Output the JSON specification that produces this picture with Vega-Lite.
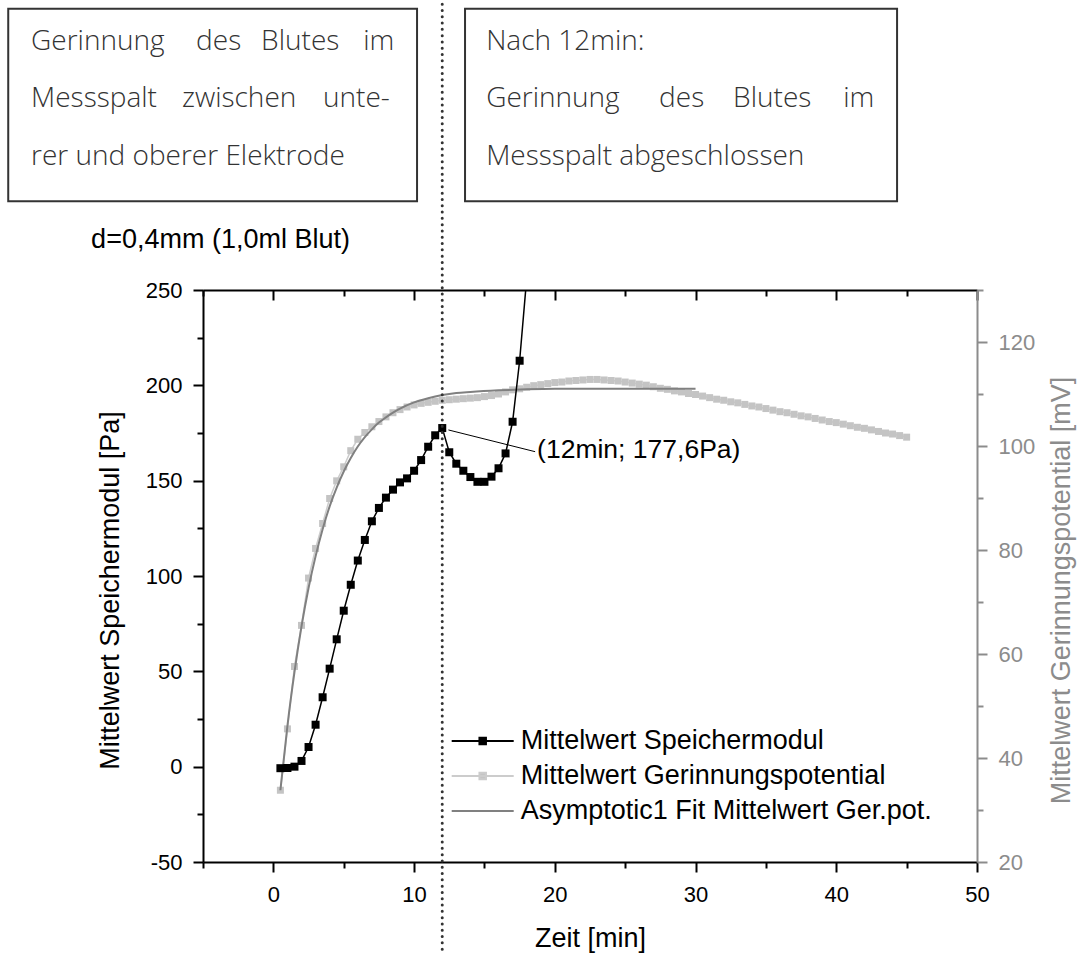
{
  "$schema": "https://vega.github.io/schema/vega-lite/v6.json",
  "width": 774,
  "height": 572,
  "autosize": {"type": "none"},
  "padding": {"left": 203, "top": 290, "right": 101, "bottom": 92},
  "background": "white",
  "config": {"view": {"stroke": null}},
  "datasets": {
    "sm": [
      {"t": 0.5, "v": -0.8, "s": "Mittelwert Speichermodul"},
      {"t": 1, "v": -0.7, "s": "Mittelwert Speichermodul"},
      {"t": 1.5, "v": 0, "s": "Mittelwert Speichermodul"},
      {"t": 2, "v": 3.0, "s": "Mittelwert Speichermodul"},
      {"t": 2.5, "v": 10.3, "s": "Mittelwert Speichermodul"},
      {"t": 3, "v": 22.0, "s": "Mittelwert Speichermodul"},
      {"t": 3.5, "v": 36.4, "s": "Mittelwert Speichermodul"},
      {"t": 4, "v": 51.4, "s": "Mittelwert Speichermodul"},
      {"t": 4.5, "v": 66.8, "s": "Mittelwert Speichermodul"},
      {"t": 5, "v": 81.8, "s": "Mittelwert Speichermodul"},
      {"t": 5.5, "v": 95.4, "s": "Mittelwert Speichermodul"},
      {"t": 6, "v": 108.1, "s": "Mittelwert Speichermodul"},
      {"t": 6.5, "v": 118.9, "s": "Mittelwert Speichermodul"},
      {"t": 7, "v": 128.7, "s": "Mittelwert Speichermodul"},
      {"t": 7.5, "v": 135.7, "s": "Mittelwert Speichermodul"},
      {"t": 8, "v": 141.1, "s": "Mittelwert Speichermodul"},
      {"t": 8.5, "v": 145.3, "s": "Mittelwert Speichermodul"},
      {"t": 9, "v": 149.1, "s": "Mittelwert Speichermodul"},
      {"t": 9.5, "v": 151.2, "s": "Mittelwert Speichermodul"},
      {"t": 10, "v": 155.2, "s": "Mittelwert Speichermodul"},
      {"t": 10.5, "v": 160.8, "s": "Mittelwert Speichermodul"},
      {"t": 11, "v": 167.8, "s": "Mittelwert Speichermodul"},
      {"t": 11.5, "v": 173.8, "s": "Mittelwert Speichermodul"},
      {"t": 12, "v": 177.6, "s": "Mittelwert Speichermodul"},
      {"t": 12.5, "v": 164.9, "s": "Mittelwert Speichermodul"},
      {"t": 13, "v": 158.9, "s": "Mittelwert Speichermodul"},
      {"t": 13.5, "v": 155.2, "s": "Mittelwert Speichermodul"},
      {"t": 14, "v": 151.9, "s": "Mittelwert Speichermodul"},
      {"t": 14.5, "v": 149.4, "s": "Mittelwert Speichermodul"},
      {"t": 15, "v": 149.4, "s": "Mittelwert Speichermodul"},
      {"t": 15.5, "v": 152.1, "s": "Mittelwert Speichermodul"},
      {"t": 16, "v": 156.5, "s": "Mittelwert Speichermodul"},
      {"t": 16.5, "v": 164.3, "s": "Mittelwert Speichermodul"},
      {"t": 17, "v": 180.9, "s": "Mittelwert Speichermodul"},
      {"t": 17.5, "v": 212.9, "s": "Mittelwert Speichermodul"},
      {"t": 18, "v": 256, "s": "Mittelwert Speichermodul"}
    ],
    "gp": [
      {"t": 0.5, "v": 33.8, "s": "Mittelwert Gerinnungspotential"},
      {"t": 1, "v": 45.6, "s": "Mittelwert Gerinnungspotential"},
      {"t": 1.5, "v": 57.6, "s": "Mittelwert Gerinnungspotential"},
      {"t": 2, "v": 65.5, "s": "Mittelwert Gerinnungspotential"},
      {"t": 2.5, "v": 74.6, "s": "Mittelwert Gerinnungspotential"},
      {"t": 3, "v": 80.3, "s": "Mittelwert Gerinnungspotential"},
      {"t": 3.5, "v": 85.1, "s": "Mittelwert Gerinnungspotential"},
      {"t": 4, "v": 89.9, "s": "Mittelwert Gerinnungspotential"},
      {"t": 4.5, "v": 93.3, "s": "Mittelwert Gerinnungspotential"},
      {"t": 5, "v": 96.0, "s": "Mittelwert Gerinnungspotential"},
      {"t": 5.5, "v": 99.1, "s": "Mittelwert Gerinnungspotential"},
      {"t": 6, "v": 101.3, "s": "Mittelwert Gerinnungspotential"},
      {"t": 6.5, "v": 102.6, "s": "Mittelwert Gerinnungspotential"},
      {"t": 7, "v": 103.7, "s": "Mittelwert Gerinnungspotential"},
      {"t": 7.5, "v": 104.7, "s": "Mittelwert Gerinnungspotential"},
      {"t": 8, "v": 105.6, "s": "Mittelwert Gerinnungspotential"},
      {"t": 8.5, "v": 106.4, "s": "Mittelwert Gerinnungspotential"},
      {"t": 9, "v": 107.0, "s": "Mittelwert Gerinnungspotential"},
      {"t": 9.5, "v": 107.5, "s": "Mittelwert Gerinnungspotential"},
      {"t": 10, "v": 107.9, "s": "Mittelwert Gerinnungspotential"},
      {"t": 10.5, "v": 108.2, "s": "Mittelwert Gerinnungspotential"},
      {"t": 11, "v": 108.4, "s": "Mittelwert Gerinnungspotential"},
      {"t": 11.5, "v": 108.6, "s": "Mittelwert Gerinnungspotential"},
      {"t": 12, "v": 108.8, "s": "Mittelwert Gerinnungspotential"},
      {"t": 12.5, "v": 108.9, "s": "Mittelwert Gerinnungspotential"},
      {"t": 13, "v": 109.0, "s": "Mittelwert Gerinnungspotential"},
      {"t": 13.5, "v": 109.1, "s": "Mittelwert Gerinnungspotential"},
      {"t": 14, "v": 109.2, "s": "Mittelwert Gerinnungspotential"},
      {"t": 14.5, "v": 109.3, "s": "Mittelwert Gerinnungspotential"},
      {"t": 15, "v": 109.5, "s": "Mittelwert Gerinnungspotential"},
      {"t": 15.5, "v": 109.7, "s": "Mittelwert Gerinnungspotential"},
      {"t": 16, "v": 110.0, "s": "Mittelwert Gerinnungspotential"},
      {"t": 16.5, "v": 110.4, "s": "Mittelwert Gerinnungspotential"},
      {"t": 17, "v": 110.8, "s": "Mittelwert Gerinnungspotential"},
      {"t": 17.5, "v": 111.0, "s": "Mittelwert Gerinnungspotential"},
      {"t": 18, "v": 111.3, "s": "Mittelwert Gerinnungspotential"},
      {"t": 18.5, "v": 111.6, "s": "Mittelwert Gerinnungspotential"},
      {"t": 19, "v": 111.8, "s": "Mittelwert Gerinnungspotential"},
      {"t": 19.5, "v": 112.0, "s": "Mittelwert Gerinnungspotential"},
      {"t": 20, "v": 112.2, "s": "Mittelwert Gerinnungspotential"},
      {"t": 20.5, "v": 112.3, "s": "Mittelwert Gerinnungspotential"},
      {"t": 21, "v": 112.5, "s": "Mittelwert Gerinnungspotential"},
      {"t": 21.5, "v": 112.6, "s": "Mittelwert Gerinnungspotential"},
      {"t": 22, "v": 112.7, "s": "Mittelwert Gerinnungspotential"},
      {"t": 22.5, "v": 112.8, "s": "Mittelwert Gerinnungspotential"},
      {"t": 23, "v": 112.8, "s": "Mittelwert Gerinnungspotential"},
      {"t": 23.5, "v": 112.7, "s": "Mittelwert Gerinnungspotential"},
      {"t": 24, "v": 112.6, "s": "Mittelwert Gerinnungspotential"},
      {"t": 24.5, "v": 112.5, "s": "Mittelwert Gerinnungspotential"},
      {"t": 25, "v": 112.3, "s": "Mittelwert Gerinnungspotential"},
      {"t": 25.5, "v": 112.1, "s": "Mittelwert Gerinnungspotential"},
      {"t": 26, "v": 111.9, "s": "Mittelwert Gerinnungspotential"},
      {"t": 26.5, "v": 111.7, "s": "Mittelwert Gerinnungspotential"},
      {"t": 27, "v": 111.4, "s": "Mittelwert Gerinnungspotential"},
      {"t": 27.5, "v": 111.1, "s": "Mittelwert Gerinnungspotential"},
      {"t": 28, "v": 110.9, "s": "Mittelwert Gerinnungspotential"},
      {"t": 28.5, "v": 110.6, "s": "Mittelwert Gerinnungspotential"},
      {"t": 29, "v": 110.4, "s": "Mittelwert Gerinnungspotential"},
      {"t": 29.5, "v": 110.1, "s": "Mittelwert Gerinnungspotential"},
      {"t": 30, "v": 109.9, "s": "Mittelwert Gerinnungspotential"},
      {"t": 30.5, "v": 109.6, "s": "Mittelwert Gerinnungspotential"},
      {"t": 31, "v": 109.3, "s": "Mittelwert Gerinnungspotential"},
      {"t": 31.5, "v": 109.0, "s": "Mittelwert Gerinnungspotential"},
      {"t": 32, "v": 108.8, "s": "Mittelwert Gerinnungspotential"},
      {"t": 32.5, "v": 108.5, "s": "Mittelwert Gerinnungspotential"},
      {"t": 33, "v": 108.3, "s": "Mittelwert Gerinnungspotential"},
      {"t": 33.5, "v": 108.0, "s": "Mittelwert Gerinnungspotential"},
      {"t": 34, "v": 107.7, "s": "Mittelwert Gerinnungspotential"},
      {"t": 34.5, "v": 107.5, "s": "Mittelwert Gerinnungspotential"},
      {"t": 35, "v": 107.2, "s": "Mittelwert Gerinnungspotential"},
      {"t": 35.5, "v": 106.9, "s": "Mittelwert Gerinnungspotential"},
      {"t": 36, "v": 106.6, "s": "Mittelwert Gerinnungspotential"},
      {"t": 36.5, "v": 106.4, "s": "Mittelwert Gerinnungspotential"},
      {"t": 37, "v": 106.1, "s": "Mittelwert Gerinnungspotential"},
      {"t": 37.5, "v": 105.8, "s": "Mittelwert Gerinnungspotential"},
      {"t": 38, "v": 105.6, "s": "Mittelwert Gerinnungspotential"},
      {"t": 38.5, "v": 105.3, "s": "Mittelwert Gerinnungspotential"},
      {"t": 39, "v": 105.0, "s": "Mittelwert Gerinnungspotential"},
      {"t": 39.5, "v": 104.7, "s": "Mittelwert Gerinnungspotential"},
      {"t": 40, "v": 104.5, "s": "Mittelwert Gerinnungspotential"},
      {"t": 40.5, "v": 104.2, "s": "Mittelwert Gerinnungspotential"},
      {"t": 41, "v": 103.9, "s": "Mittelwert Gerinnungspotential"},
      {"t": 41.5, "v": 103.6, "s": "Mittelwert Gerinnungspotential"},
      {"t": 42, "v": 103.4, "s": "Mittelwert Gerinnungspotential"},
      {"t": 42.5, "v": 103.1, "s": "Mittelwert Gerinnungspotential"},
      {"t": 43, "v": 102.8, "s": "Mittelwert Gerinnungspotential"},
      {"t": 43.5, "v": 102.5, "s": "Mittelwert Gerinnungspotential"},
      {"t": 44, "v": 102.3, "s": "Mittelwert Gerinnungspotential"},
      {"t": 44.5, "v": 102.0, "s": "Mittelwert Gerinnungspotential"},
      {"t": 45, "v": 101.7, "s": "Mittelwert Gerinnungspotential"}
    ],
    "fit": [
      {"t": 0.5, "v": 33.8, "s": "Asymptotic1 Fit Mittelwert Ger.pot."},
      {"t": 1, "v": 46.2, "s": "Asymptotic1 Fit Mittelwert Ger.pot."},
      {"t": 1.5, "v": 56.5, "s": "Asymptotic1 Fit Mittelwert Ger.pot."},
      {"t": 2, "v": 65.3, "s": "Asymptotic1 Fit Mittelwert Ger.pot."},
      {"t": 2.5, "v": 72.7, "s": "Asymptotic1 Fit Mittelwert Ger.pot."},
      {"t": 3, "v": 78.8, "s": "Asymptotic1 Fit Mittelwert Ger.pot."},
      {"t": 3.5, "v": 84.0, "s": "Asymptotic1 Fit Mittelwert Ger.pot."},
      {"t": 4, "v": 88.4, "s": "Asymptotic1 Fit Mittelwert Ger.pot."},
      {"t": 4.5, "v": 92.0, "s": "Asymptotic1 Fit Mittelwert Ger.pot."},
      {"t": 5, "v": 95.1, "s": "Asymptotic1 Fit Mittelwert Ger.pot."},
      {"t": 5.5, "v": 97.7, "s": "Asymptotic1 Fit Mittelwert Ger.pot."},
      {"t": 6, "v": 99.9, "s": "Asymptotic1 Fit Mittelwert Ger.pot."},
      {"t": 6.5, "v": 101.7, "s": "Asymptotic1 Fit Mittelwert Ger.pot."},
      {"t": 7, "v": 103.2, "s": "Asymptotic1 Fit Mittelwert Ger.pot."},
      {"t": 7.5, "v": 104.5, "s": "Asymptotic1 Fit Mittelwert Ger.pot."},
      {"t": 8, "v": 105.5, "s": "Asymptotic1 Fit Mittelwert Ger.pot."},
      {"t": 8.5, "v": 106.4, "s": "Asymptotic1 Fit Mittelwert Ger.pot."},
      {"t": 9, "v": 107.2, "s": "Asymptotic1 Fit Mittelwert Ger.pot."},
      {"t": 10, "v": 108.4, "s": "Asymptotic1 Fit Mittelwert Ger.pot."},
      {"t": 11, "v": 109.2, "s": "Asymptotic1 Fit Mittelwert Ger.pot."},
      {"t": 12, "v": 109.8, "s": "Asymptotic1 Fit Mittelwert Ger.pot."},
      {"t": 13, "v": 110.2, "s": "Asymptotic1 Fit Mittelwert Ger.pot."},
      {"t": 14, "v": 110.4, "s": "Asymptotic1 Fit Mittelwert Ger.pot."},
      {"t": 16, "v": 110.7, "s": "Asymptotic1 Fit Mittelwert Ger.pot."},
      {"t": 18, "v": 110.9, "s": "Asymptotic1 Fit Mittelwert Ger.pot."},
      {"t": 20, "v": 111.0, "s": "Asymptotic1 Fit Mittelwert Ger.pot."},
      {"t": 25, "v": 111.0, "s": "Asymptotic1 Fit Mittelwert Ger.pot."},
      {"t": 30, "v": 111.0, "s": "Asymptotic1 Fit Mittelwert Ger.pot."}
    ],
    "boxes": [
      {"x0": -18.84, "x1": 10.21, "y0": 296.6, "y1": 397.5},
      {"x0": 13.62, "x1": 44.32, "y0": 296.6, "y1": 397.5}
    ],
    "words": [
      {"w": "Gerinnung", "x": -17.22, "y": 375.8},
      {"w": "des", "x": -5.49, "y": 375.8},
      {"w": "Blutes", "x": -0.87, "y": 375.8},
      {"w": "im", "x": 6.38, "y": 375.8},
      {"w": "Messspalt", "x": -17.22, "y": 345.9},
      {"w": "zwischen", "x": -6.49, "y": 345.9},
      {"w": "unte-", "x": 3.53, "y": 345.9},
      {"w": "rer und oberer Elektrode", "x": -17.22, "y": 315.6},
      {"w": "Nach 12min:", "x": 15.12, "y": 375.8},
      {"w": "Gerinnung", "x": 15.12, "y": 345.9},
      {"w": "des", "x": 27.41, "y": 345.9},
      {"w": "Blutes", "x": 32.67, "y": 345.9},
      {"w": "im", "x": 40.49, "y": 345.9},
      {"w": "Messspalt abgeschlossen", "x": 15.12, "y": 315.6}
    ]
  },
  "layer": [
    {
      "layer": [
        {
          "data": {"name": "gp"},
          "mark": {"type": "line", "strokeWidth": 1.5, "clip": true},
          "encoding": {
            "x": {"field": "t", "type": "quantitative", "scale": {"domain": [-5, 50], "nice": false, "zero": false},
              "axis": {
                "orient": "top",
                "values": [-5, 0, 5, 10, 15, 20, 25, 30, 35, 40, 45, 50],
                "labels": false,
                "tickSize": {"condition": {"test": "datum.value % 10 === 0", "value": -10}, "value": -6},
                "tickWidth": 2, "tickColor": "#000", "domainColor": "#000", "domainWidth": 2,
                "grid": false, "title": null
              }
            },
            "y": {"field": "v", "type": "quantitative", "scale": {"domain": [20, 130], "nice": false, "zero": false},
              "axis": {
                "orient": "right",
                "values": [20, 30, 40, 50, 60, 70, 80, 90, 100, 110, 120, 130],
                "labelExpr": "datum.value % 20 === 0 ? datum.label : ''",
                "tickSize": {"condition": {"test": "datum.value % 20 === 0", "value": 10}, "value": 6},
                "tickWidth": 2, "tickColor": "#8c8c8c", "domainColor": "#8c8c8c", "domainWidth": 2,
                "labelFont": "Liberation Sans", "labelFontSize": 22, "labelColor": "#8c8c8c", "labelPadding": 11,
                "labelOverlap": false, "labelFlush": false, "grid": false,
                "title": "Mittelwert Gerinnungspotential [mV]",
                "titleFont": "Liberation Sans", "titleFontSize": 27, "titleFontWeight": "normal", "titleColor": "#8c8c8c",
                "titleAngle": 270, "titleBaseline": "middle", "titleX": 84, "titleY": 300
              }
            },
            "color": {
              "field": "s", "type": "nominal",
              "scale": {
                "domain": ["Mittelwert Speichermodul", "Mittelwert Gerinnungspotential", "Asymptotic1 Fit Mittelwert Ger.pot."],
                "range": ["#000000", "#cccccc", "#808080"]
              },
              "legend": {
                "orient": "none", "legendX": 265.7, "legendY": 437, "title": null, "padding": 0,
                "symbolType": "M-2.385,0H2.385", "symbolSize": 676, "symbolStrokeWidth": 2,
                "labelFont": "Liberation Sans", "labelFontSize": 27, "labelColor": "#000",
                "labelOffset": 24, "rowPadding": 8, "labelLimit": 600,
                "encode": {
                  "symbols": {
                    "update": {
                      "shape": {"signal": "datum.value === 'Asymptotic1 Fit Mittelwert Ger.pot.' ? 'M-2.385,0H2.385' : 'M-2.385,0H2.385M-0.25,-0.25H0.25V0.25H-0.25Z'"},
                      "fill": {"signal": "datum.value === 'Mittelwert Speichermodul' ? '#000000' : '#c4c4c4'"}
                    }
                  }
                }
              }
            }
          }
        },
        {
          "data": {"name": "gp"},
          "mark": {"type": "point", "shape": "square", "filled": true, "size": 49, "color": "#c4c4c4", "opacity": 1, "clip": true},
          "encoding": {
            "x": {"field": "t", "type": "quantitative"},
            "y": {"field": "v", "type": "quantitative"}
          }
        },
        {
          "data": {"name": "fit"},
          "mark": {"type": "line", "strokeWidth": 2, "clip": true, "interpolate": "monotone"},
          "encoding": {
            "x": {"field": "t", "type": "quantitative"},
            "y": {"field": "v", "type": "quantitative"},
            "color": {"field": "s", "type": "nominal"}
          }
        }
      ]
    },
    {
      "layer": [
        {
          "data": {"name": "sm"},
          "mark": {"type": "line", "strokeWidth": 1.5, "clip": true},
          "encoding": {
            "x": {"field": "t", "type": "quantitative", "scale": {"domain": [-5, 50], "nice": false, "zero": false},
              "axis": {
                "orient": "bottom",
                "values": [-5, 0, 5, 10, 15, 20, 25, 30, 35, 40, 45, 50],
                "labelExpr": "datum.value % 10 === 0 ? datum.label : ''",
                "tickSize": {"condition": {"test": "datum.value % 10 === 0", "value": 10}, "value": 6},
                "tickWidth": 2, "tickColor": "#000", "domainColor": "#000", "domainWidth": 2,
                "labelFont": "Liberation Sans", "labelFontSize": 22, "labelColor": "#000", "labelPadding": 12,
                "labelOverlap": false, "labelFlush": false, "grid": false,
                "title": "Zeit [min]", "titleFont": "Liberation Sans", "titleFontSize": 27, "titleFontWeight": "normal",
                "titleColor": "#000", "titleBaseline": "middle", "titleY": 76
              }
            },
            "y": {"field": "v", "type": "quantitative", "scale": {"domain": [-50, 250], "nice": false, "zero": false},
              "axis": {
                "orient": "left",
                "values": [-50, -25, 0, 25, 50, 75, 100, 125, 150, 175, 200, 225, 250],
                "labelExpr": "datum.value % 50 === 0 ? replace(datum.label, '\u2212', '-') : ''",
                "tickSize": {"condition": {"test": "datum.value % 50 === 0", "value": 10}, "value": 6},
                "tickWidth": 2, "tickColor": "#000", "domainColor": "#000", "domainWidth": 2,
                "labelFont": "Liberation Sans", "labelFontSize": 22, "labelColor": "#000", "labelPadding": 11,
                "labelOverlap": false, "labelFlush": false, "grid": false,
                "title": "Mittelwert Speichermodul [Pa]", "titleFont": "Liberation Sans", "titleFontSize": 27,
                "titleFontWeight": "normal", "titleColor": "#000", "titleAngle": 270, "titleBaseline": "middle",
                "titleX": -93, "titleY": 300
              }
            },
            "color": {"field": "s", "type": "nominal"}
          }
        },
        {
          "data": {"name": "sm"},
          "mark": {"type": "point", "shape": "square", "filled": true, "size": 64, "color": "#000", "opacity": 1, "clip": true},
          "encoding": {
            "x": {"field": "t", "type": "quantitative"},
            "y": {"field": "v", "type": "quantitative"}
          }
        },
        {
          "data": {"values": [{}]},
          "mark": {"type": "rule", "strokeDash": [0, 6.3], "strokeCap": "round", "strokeWidth": 3, "color": "#333333", "clip": false},
          "encoding": {
            "x": {"datum": 12, "type": "quantitative"},
            "y": {"datum": -99, "type": "quantitative"},
            "y2": {"datum": 403}
          }
        },
        {
          "data": {"name": "boxes"},
          "mark": {"type": "rect", "fill": "white", "fillOpacity": 0, "stroke": "#333333", "strokeWidth": 2, "clip": false},
          "encoding": {
            "x": {"field": "x0", "type": "quantitative"},
            "x2": {"field": "x1"},
            "y": {"field": "y0", "type": "quantitative"},
            "y2": {"field": "y1"}
          }
        },
        {
          "data": {"name": "words"},
          "mark": {"type": "text", "align": "left", "baseline": "alphabetic", "font": "Open Sans", "fontWeight": 300, "fontSize": 28, "color": "#333333", "clip": false},
          "encoding": {
            "x": {"field": "x", "type": "quantitative"},
            "y": {"field": "y", "type": "quantitative"},
            "text": {"field": "w"}
          }
        },
        {
          "data": {"values": [{}]},
          "mark": {"type": "text", "align": "left", "baseline": "alphabetic", "font": "Liberation Sans", "fontSize": 27, "color": "#000", "clip": false},
          "encoding": {
            "x": {"datum": -12.95, "type": "quantitative"},
            "y": {"datum": 272.0, "type": "quantitative"},
            "text": {"value": "d=0,4mm (1,0ml Blut)"}
          }
        },
        {
          "data": {"values": [{}]},
          "mark": {"type": "rule", "strokeWidth": 1, "color": "#000"},
          "encoding": {
            "x": {"datum": 12.44, "type": "quantitative"},
            "y": {"datum": 176.6, "type": "quantitative"},
            "x2": {"datum": 18.6},
            "y2": {"datum": 165.2}
          }
        },
        {
          "data": {"values": [{}]},
          "mark": {"type": "text", "align": "left", "baseline": "alphabetic", "font": "Liberation Sans", "fontSize": 26.5, "color": "#000"},
          "encoding": {
            "x": {"datum": 18.74, "type": "quantitative"},
            "y": {"datum": 161.9, "type": "quantitative"},
            "text": {"value": "(12min; 177,6Pa)"}
          }
        }
      ]
    }
  ],
  "resolve": {"scale": {"y": "independent"}, "axis": {"x": "independent"}}
}
